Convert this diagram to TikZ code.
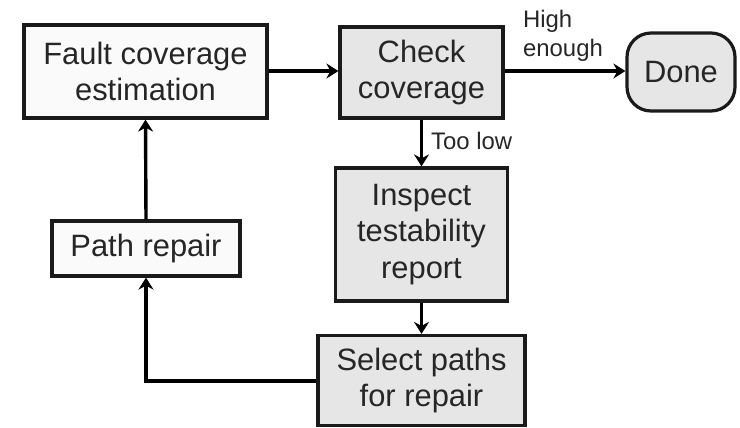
\documentclass[tikz,border=0pt]{standalone}
\usepackage{fontspec}
\setmainfont{Liberation Sans}
\usetikzlibrary{arrows.meta}
\definecolor{boxline}{HTML}{1A1A1A}
\definecolor{greyfill}{HTML}{E6E6E6}
\definecolor{paleFill}{HTML}{FAFAFA}
\tikzset{
  base/.style={draw=boxline, line width=3.2bp, align=center, inner sep=0pt,
    font=\fontsize{31}{37}\selectfont, text=black!85},
  whitebox/.style={base, fill=paleFill},
  greybox/.style={base, fill=greyfill},
  flow/.style={draw=black, line width=3.4bp,
    -{Stealth[length=12bp, width=15bp, inset=4bp]}},
  lbl/.style={font=\fontsize{24}{29}\selectfont, text=black!85, inner sep=0pt, align=left}
}
\begin{document}
\begin{tikzpicture}[x=1bp, y=-1bp]
  \useasboundingbox (0,0) rectangle (740,427);

  \node[whitebox, minimum width=243bp, minimum height=93bp] (fce) at (145.5,71.5)
    {Fault coverage\\estimation};
  \node[greybox, minimum width=163bp, minimum height=91bp] (chk) at (421.5,72.5)
    {Check\\coverage};
  \node[greybox, rounded corners=24bp, minimum width=108bp, minimum height=78bp] (done) at (681,72)
    {Done};
  \node[greybox, minimum width=172bp, minimum height=133bp] (insp) at (421.5,234.5)
    {Inspect\\testability\\report};
  \node[whitebox, minimum width=188bp, minimum height=55bp] (prep) at (146,248.5)
    {Path repair};
  \node[greybox, minimum width=207bp, minimum height=90bp] (sel) at (421.5,380.5)
    {Select paths\\for repair};

  \coordinate (bend) at (146,381);

  \draw[flow] (fce.east |- 0,71) -- (chk.west |- 0,71);
  \draw[flow] (chk.east |- 0,71) -- (done.west |- 0,71)
    node[lbl, pos=0.5, above=8bp, xshift=-2bp] {High\\enough};
  \draw[flow] (chk.south) -- (insp.north)
    node[lbl, pos=0.45, right=8bp] {Too low};
  \draw[flow] (insp.south) -- (sel.north);
  \draw[flow] (sel.west |- bend) -- (bend) -- (prep.south);
  \draw[flow] (prep.north) -- (fce.south);
\end{tikzpicture}
\end{document}
